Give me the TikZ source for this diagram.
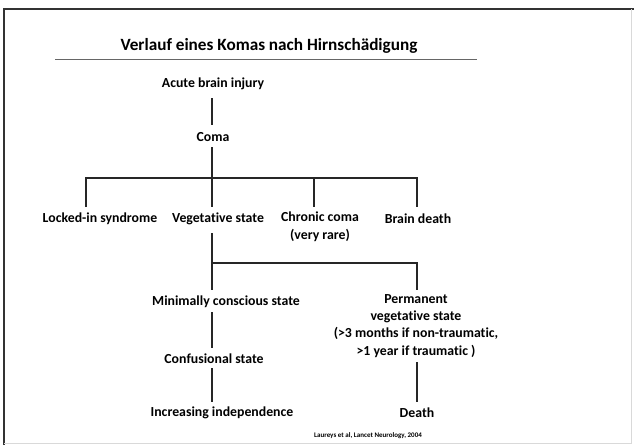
\documentclass[tikz,border=0pt]{standalone}
\usepackage{fontspec}
\setmainfont[Ligatures=NoCommon]{Carlito}
\begin{document}
\begin{tikzpicture}[x=1pt,y=-1pt,
    state/.style={font=\bfseries\fontsize{13.8}{17.3}\selectfont,align=center,inner sep=0pt},
    link/.style={line width=1.2pt,draw=black!85}]
  \useasboundingbox (0,0) rectangle (634,445);
  % frame
  \draw[line width=2pt,black!80] (4,445) -- (4,9) -- (634,9);
  \draw[line width=0.5pt,black!15] (631,9) -- (631,443) -- (4,443);
  % title
  \node [font=\bfseries\fontsize{17.2}{20}\selectfont] (title) at (269,46) {Verlauf eines Komas nach Hirnschädigung};
  \draw[line width=1pt,black!60] (55,59) -- (477,59);

  \node [state] (injury) at (213,84) {Acute brain injury};
  \node [state] (coma) at (213,137) {Coma};
  \node [state] (locked) at (100,219) {Locked-in syndrome};
  \node [state] (veg) at (218,219) {Vegetative state};
  \node [state,anchor=north] (chronic) at (320,212) {Chronic coma\\(very rare)};
  \node [state] (brain) at (418,219) {Brain death};
  \node [state] (mcs) at (226,302) {Minimally conscious state};
  \node [state,anchor=north] (pvs) at (416,294) {Permanent\\vegetative state\\(>3 months if non-traumatic,\\>1 year if traumatic )};
  \node [state] (conf) at (214,359) {Confusional state};
  \node [state] (indep) at (222,413) {Increasing independence};
  \node [state] (death) at (417,413) {Death};
  \node [font=\bfseries\fontsize{7}{8}\selectfont,inner sep=0pt] (ref) at (368,436) {Laureys et al, Lancet Neurology, 2004};

  \coordinate (split) at (212,178);
  \coordinate (fork) at (212,263);

  \draw[link] (212,98) -- (212,125);
  \draw[link] (212,147) -- (split);
  \draw[link] (86,207) -- (86,178) -- (417,178) -- (417,207);
  \draw[link] (split) -- (212,207);
  \draw[link] (314,178) -- (314,207);
  \draw[link] (212,233) -- (212,290);
  \draw[link] (fork) -- (417,263) -- (417,290);
  \draw[link] (212,312) -- (212,348);
  \draw[link] (212,368) -- (212,402);
  \draw[link] (417,362) -- (417,402);
\end{tikzpicture}
\end{document}
